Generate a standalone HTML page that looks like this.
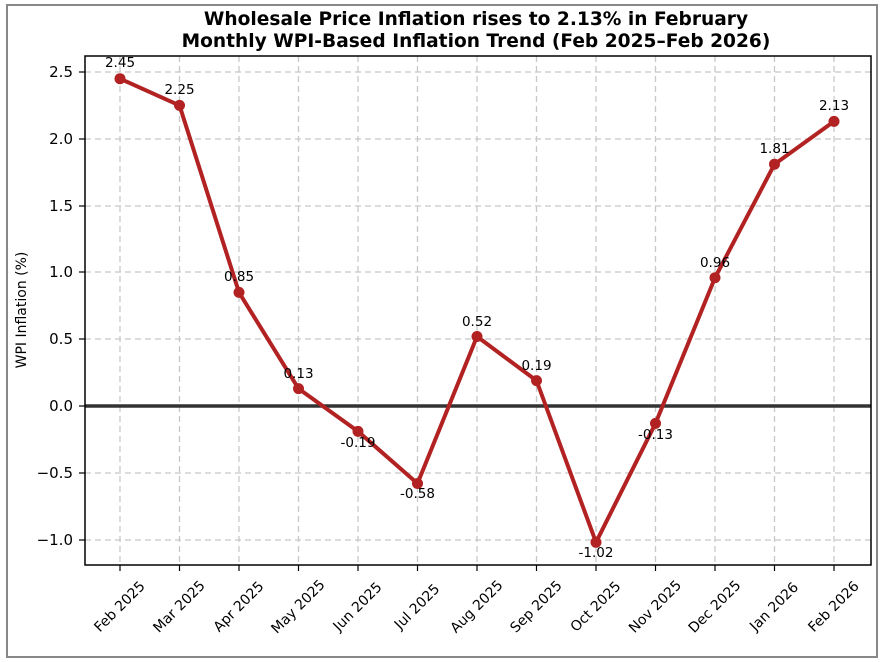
<!DOCTYPE html><html><head><meta charset="utf-8"><style>body{margin:0;background:#fff}svg{display:block;font-family:"DejaVu Sans",sans-serif}</style></head><body>
<svg width="882" height="662" viewBox="0 0 882 662" xmlns="http://www.w3.org/2000/svg">
<rect x="0" y="0" width="882" height="662" fill="#fff"/>
<rect x="7" y="5" width="870" height="652" fill="none" stroke="#888" stroke-width="2"/>
<text x="476" y="25" font-size="18.6" font-weight="bold" text-anchor="middle">Wholesale Price Inflation rises to 2.13% in February</text>
<text x="476" y="47" font-size="18.6" font-weight="bold" text-anchor="middle">Monthly WPI-Based Inflation Trend (Feb 2025–Feb 2026)</text>
<g stroke="#c8c8c8" stroke-width="1.3" stroke-dasharray="6,4">
<line x1="85" x2="871" y1="72" y2="72"/><line x1="85" x2="871" y1="139" y2="139"/><line x1="85" x2="871" y1="206" y2="206"/><line x1="85" x2="871" y1="272" y2="272"/><line x1="85" x2="871" y1="339" y2="339"/><line x1="85" x2="871" y1="473" y2="473"/><line x1="85" x2="871" y1="540" y2="540"/>
<line x1="120" x2="120" y1="56" y2="565"/><line x1="179.5" x2="179.5" y1="56" y2="565"/><line x1="239" x2="239" y1="56" y2="565"/><line x1="298.5" x2="298.5" y1="56" y2="565"/><line x1="358" x2="358" y1="56" y2="565"/><line x1="417.5" x2="417.5" y1="56" y2="565"/><line x1="477" x2="477" y1="56" y2="565"/><line x1="536.5" x2="536.5" y1="56" y2="565"/><line x1="596" x2="596" y1="56" y2="565"/><line x1="655.5" x2="655.5" y1="56" y2="565"/><line x1="715" x2="715" y1="56" y2="565"/><line x1="774.5" x2="774.5" y1="56" y2="565"/><line x1="834" x2="834" y1="56" y2="565"/>
</g>
<line x1="85" x2="871" y1="406" y2="406" stroke="#333" stroke-width="3.5"/>
<rect x="85" y="56" width="786" height="509" fill="none" stroke="#000" stroke-width="1.5"/>
<g stroke="#000" stroke-width="1.2">
<line x1="79" x2="85" y1="72" y2="72"/><line x1="79" x2="85" y1="139" y2="139"/><line x1="79" x2="85" y1="206" y2="206"/><line x1="79" x2="85" y1="272" y2="272"/><line x1="79" x2="85" y1="339" y2="339"/><line x1="79" x2="85" y1="406" y2="406"/><line x1="79" x2="85" y1="473" y2="473"/><line x1="79" x2="85" y1="540" y2="540"/>
<line x1="120" x2="120" y1="565" y2="571"/><line x1="179.5" x2="179.5" y1="565" y2="571"/><line x1="239" x2="239" y1="565" y2="571"/><line x1="298.5" x2="298.5" y1="565" y2="571"/><line x1="358" x2="358" y1="565" y2="571"/><line x1="417.5" x2="417.5" y1="565" y2="571"/><line x1="477" x2="477" y1="565" y2="571"/><line x1="536.5" x2="536.5" y1="565" y2="571"/><line x1="596" x2="596" y1="565" y2="571"/><line x1="655.5" x2="655.5" y1="565" y2="571"/><line x1="715" x2="715" y1="565" y2="571"/><line x1="774.5" x2="774.5" y1="565" y2="571"/><line x1="834" x2="834" y1="565" y2="571"/>
</g>
<g font-size="15" text-anchor="end" dominant-baseline="central">
<text x="73" y="72">2.5</text><text x="73" y="139">2.0</text><text x="73" y="206">1.5</text><text x="73" y="272">1.0</text><text x="73" y="339">0.5</text><text x="73" y="406">0.0</text><text x="73" y="473">−0.5</text><text x="73" y="540">−1.0</text>
</g>
<text transform="translate(22,310) rotate(-90)" font-size="14" text-anchor="middle" dominant-baseline="central">WPI Inflation (%)</text>
<g font-size="14" text-anchor="middle" dominant-baseline="central">
<text transform="translate(120,607) rotate(-45)">Feb 2025</text>
<text transform="translate(179.5,607) rotate(-45)">Mar 2025</text>
<text transform="translate(239,607) rotate(-45)">Apr 2025</text>
<text transform="translate(298.5,607) rotate(-45)">May 2025</text>
<text transform="translate(358,607) rotate(-45)">Jun 2025</text>
<text transform="translate(417.5,607) rotate(-45)">Jul 2025</text>
<text transform="translate(477,607) rotate(-45)">Aug 2025</text>
<text transform="translate(536.5,607) rotate(-45)">Sep 2025</text>
<text transform="translate(596,607) rotate(-45)">Oct 2025</text>
<text transform="translate(655.5,607) rotate(-45)">Nov 2025</text>
<text transform="translate(715,607) rotate(-45)">Dec 2025</text>
<text transform="translate(774.5,607) rotate(-45)">Jan 2026</text>
<text transform="translate(834,607) rotate(-45)">Feb 2026</text>
</g>
<polyline fill="none" stroke="#b22222" stroke-width="4" stroke-linejoin="round" points="120,78.7 179.5,105.4 239,292.4 298.5,388.6 358,431.4 417.5,483.5 477,336.5 536.5,380.6 596,542.3 655.5,423.4 715,277.7 774.5,164.2 834,121.4"/>
<g fill="#b22222">
<circle cx="120" cy="78.7" r="5.5"/><circle cx="179.5" cy="105.4" r="5.5"/><circle cx="239" cy="292.4" r="5.5"/><circle cx="298.5" cy="388.6" r="5.5"/><circle cx="358" cy="431.4" r="5.5"/><circle cx="417.5" cy="483.5" r="5.5"/><circle cx="477" cy="336.5" r="5.5"/><circle cx="536.5" cy="380.6" r="5.5"/><circle cx="596" cy="542.3" r="5.5"/><circle cx="655.5" cy="423.4" r="5.5"/><circle cx="715" cy="277.7" r="5.5"/><circle cx="774.5" cy="164.2" r="5.5"/><circle cx="834" cy="121.4" r="5.5"/>
</g>
<g font-size="13.5" text-anchor="middle" dominant-baseline="central">
<text x="120" y="63">2.45</text><text x="179.5" y="90">2.25</text><text x="239" y="277">0.85</text><text x="298.5" y="374">0.13</text><text x="358" y="443">-0.19</text><text x="417.5" y="494">-0.58</text><text x="477" y="322">0.52</text><text x="536.5" y="366">0.19</text><text x="596" y="553">-1.02</text><text x="655.5" y="435">-0.13</text><text x="715" y="263">0.96</text><text x="774.5" y="149">1.81</text><text x="834" y="106">2.13</text>
</g>
</svg>
</body></html>
